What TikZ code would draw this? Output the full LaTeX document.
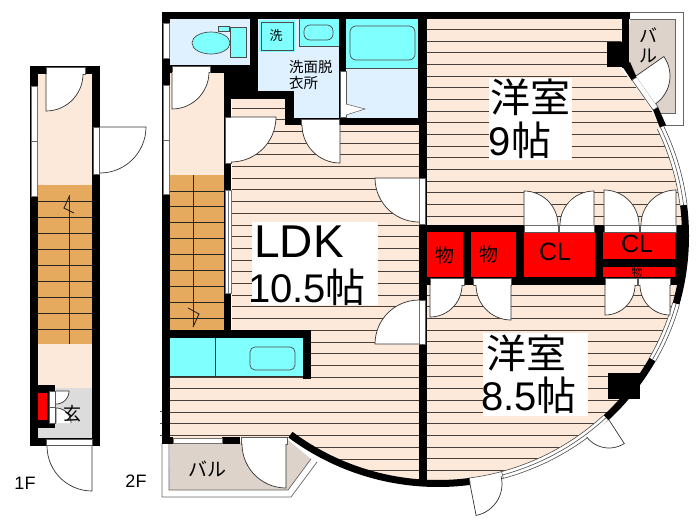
\documentclass[tikz,border=0pt]{standalone}
\usepackage{fontspec}
\setmainfont{Liberation Sans}
\newfontfamily\cjk{Noto Sans CJK JP}
\definecolor{floorpeach}{HTML}{FDE9D9}
\definecolor{stairorange}{HTML}{E6AA5E}
\definecolor{wetblue}{HTML}{DFF0FF}
\definecolor{fixcyan}{HTML}{80FFFF}
\definecolor{balctan}{HTML}{DDD3CA}
\definecolor{entrygrey}{HTML}{DCDCDC}
\definecolor{plankline}{HTML}{4A4038}
\tikzset{
wall/.style={fill=black},
stripbox/.style={fill=white, draw=black!65, line width=.5pt},
winbox/.style={fill=white, draw=black!55, line width=.7pt},
leafline/.style={draw=black!80, line width=.7pt},
plank/.style={draw=plankline, line width=1pt},
tread/.style={draw=black!85, line width=.9pt},
fixture/.style={fill=fixcyan, draw=black!70, line width=.7pt},
roombox/.style={fill=white, inner sep=0pt},
bigtext/.style={inner sep=0pt, text=black},
}
\newcommand{\doorleaf}[5]{
\fill[white] (#1,#2) -- plot[domain=#3:#4,samples=16] ({#1+#5*cos(\x)},{#2+#5*sin(\x)}) -- cycle;
\draw[leafline] (#1,#2) -- plot[domain=#3:#4,samples=16] ({#1+#5*cos(\x)},{#2+#5*sin(\x)});
}
\newcommand{\archwall}[2]{
\draw[line width=7pt, black] plot[domain=#1:#2,samples=40] ({438+247.5*cos(\x)},{236+247.5*sin(\x)});
}
\newcommand{\archwin}[2]{
\draw[line width=7pt, white] plot[domain=#1:#2,samples=30] ({438+247.5*cos(\x)},{236+247.5*sin(\x)});
\foreach \rr in {244,247.5,251}
  \draw[black!70, line width=.6pt] plot[domain=#1:#2,samples=30] ({438+\rr*cos(\x)},{236+\rr*sin(\x)});
}
\begin{document}
\begin{tikzpicture}[x=1pt,y=-1pt]
\useasboundingbox (0,0) rectangle (700,525);
% first floor
\fill[wall] (30,66) rectangle (100,446);
\fill[floorpeach] (38,74) rectangle (92,185);
\fill[stairorange] (38,185) rectangle (92,344);
\fill[floorpeach] (38,344) rectangle (92,388);
\fill[entrygrey] (38,388) rectangle (92,438);
\foreach \k in {0,...,8}
  \draw[tread] (38,{201.5+16*\k}) -- (92,{201.5+16*\k});
\draw[tread] (69.5,195) -- (69.5,344);
\draw[tread] (69.5,196) -- (64,208) -- (74,213);
\draw[stripbox] (46,67) rectangle (85,74);
\draw[winbox] (31,86) rectangle (37,196);
\draw[black!60] (31,141) -- (37,141);
\draw[stripbox] (93,127) rectangle (99,174);
\doorleaf{46}{74}{90}{0}{37}
\doorleaf{100}{127}{0}{90}{46}
\draw[stripbox] (46,439) rectangle (92,445);
\doorleaf{92}{446}{90}{180}{45}
\fill[wall] (38,385) rectangle (55,428);
\fill[red] (38,393) rectangle (47,420);
\draw[stripbox] (49,391) rectangle (55,423);
\draw[stripbox] (49,407) -- (55,407);
\doorleaf{56}{391}{0}{90}{13}
\doorleaf{56}{423}{-90}{0}{15}
\node[bigtext, font=\cjk\fontsize{18}{18}\selectfont] (genkan) at (72,414) {玄};
\node[bigtext, font=\fontsize{18}{18}\selectfont] (floorone) at (25,483) {1F};
\node[bigtext, font=\fontsize{18}{18}\selectfont] (floortwo) at (136,481) {2F};
% balconies go under the walls
\fill[balctan] (630,19) -- (675,19) -- (675,113) -- (657,113) -- (625,68) -- cycle;
\draw[black!60, line width=.7pt] (629,12) -- (683,12) -- (683,125) -- (663,125);
\draw[black!60, line width=.7pt] (630,19) -- (675,19) -- (675,113) -- (658,113);
\fill[balctan] (170,444) -- (288,440) -- (311,459) -- (288,490) -- (169,490) -- cycle;
\draw[black!60, line width=.7pt] (162,443) -- (162,497) -- (291,497) -- (317,462);
\draw[black!60, line width=.7pt] (169,444) -- (169,490) -- (288,490) -- (311,459);
% floors
\begin{scope}
\clip (232,99) -- (285,99) -- (285,125) -- (419,125) -- (419,483) -- plot[domain=94.4:126.6,samples=30] ({438+247.5*cos(\x)},{236+247.5*sin(\x)}) -- (288,438) -- (170,438) -- (170,330) -- (232,330) -- cycle;
\fill[floorpeach] (160,90) rectangle (430,490);
\foreach \k in {0,...,31}
  \draw[plank] (160,{108+11.7*\k}) -- (430,{108+11.7*\k});
\end{scope}
\begin{scope}
\clip (427,19) -- (622,19) -- plot[domain=-42.4:-2.5,samples=30] ({438+247.5*cos(\x)},{236+247.5*sin(\x)}) -- (427,225) -- cycle;
\fill[floorpeach] (420,12) rectangle (700,230);
\foreach \k in {0,...,16}
  \draw[plank] (420,{29.6+11.65*\k}) -- (700,{29.6+11.65*\k});
\end{scope}
\begin{scope}
\clip (427,285) -- plot[domain=11.4:92.5,samples=40] ({438+247.5*cos(\x)},{236+247.5*sin(\x)}) -- cycle;
\fill[floorpeach] (420,280) rectangle (700,490);
\foreach \k in {0,...,16}
  \draw[plank] (420,{295+11.7*\k}) -- (700,{295+11.7*\k});
\end{scope}
% second floor walls
\fill[wall] (162,12) rectangle (630,19);
\fill[wall] (162,12) rectangle (170,444);
\fill[wall] (170,19) rectangle (285,99);
\fill[wall] (285,19) rectangle (427,125);
\fill[wall] (224,65) rectangle (231,338);
\fill[wall] (170,330) rectangle (311,338);
\fill[wall] (303,330) rectangle (311,379);
\fill[wall] (419,12) rectangle (427,484);
\fill[wall] (622,12) rectangle (629,68);
\fill[wall] (607,42) rectangle (629,67);
\fill[wall] (162,437) rectangle (173,444);
\fill[wall] (222,437) rectangle (240,444);
\fill[wall] (419,225) rectangle (684,285);
\fill[wall] (608,373) rectangle (640,399);
\fill[wall] (622,66) -- (630,62) -- (637,78) -- (632,81) -- cycle;
\fill[wall] (653,110) -- (658,107) -- (666,125) -- (660,128) -- cycle;
\archwall{126.6}{82.6}
\archwall{47.3}{29.9}
\archwall{15.9}{-7.2}
\archwin{74.9}{47.3}
\archwin{29.9}{15.9}
\archwin{-7.2}{-26}
\draw[line width=7pt, white] plot[domain=82.6:74.9,samples=10] ({438+247.5*cos(\x)},{236+247.5*sin(\x)});
\draw[black!70, line width=.6pt] plot[domain=82.6:74.9,samples=10] ({438+244*cos(\x)},{236+244*sin(\x)}) -- plot[domain=74.9:82.6,samples=10] ({438+251*cos(\x)},{236+251*sin(\x)}) -- cycle;
\fill[white, draw=black!70, line width=.6pt] (632,80) -- (637,77) -- (658,107) -- (653,110) -- cycle;
% rooms
\fill[wetblue] (170,19) rectangle (250,65);
\fill[floorpeach] (170,73) rectangle (224,175);
\fill[wetblue] (258,19) rectangle (339,91);
\fill[wetblue] (294,19) rectangle (339,118);
\fill[wetblue] (346,19) rectangle (418,118);
\fill[stairorange] (170,175) rectangle (224,330);
\foreach \k in {0,...,8}
  \draw[tread] (170,{191+15.9*\k}) -- (224,{191+15.9*\k});
\draw[tread] (193,175) -- (193,327);
\draw[tread] (188,308) -- (199,314) -- (193,327);
\draw[winbox] (163,23) rectangle (169,58);
\draw[winbox] (163,85) rectangle (169,194);
\draw[black!60] (163,140) -- (169,140);
\draw[winbox] (225,190) rectangle (231,293);
\draw[black!55] (228,190) -- (228,293);
% toilet
\draw[fixture] (230,27) rectangle (246,57);
\draw[fixture] (218,26) rectangle (229,31);
\draw[fixture] (211,43) ellipse [x radius=19, y radius=11];
% wash room
\fill[fixcyan] (259,20) rectangle (295,52);
\draw[black!70, line width=.7pt] (261,22) rectangle (293,50);
\fill[fixcyan] (299,19) rectangle (339,46);
\draw[black!70, line width=.7pt] (299,19) -- (299,46) -- (339,46);
\draw[fixture, rounded corners=6pt] (304,25) rectangle (333,40);
\node[bigtext, font=\cjk\fontsize{13}{13}\selectfont] (washer) at (276,36) {洗};
\node[bigtext, anchor=west, align=left, font=\cjk\fontsize{14.5}{15.5}\selectfont] (washroom) at (289,75) {洗面脱\\衣所};
% bath
\fill[fixcyan] (346,19) rectangle (418,68);
\draw[black!70] (346,68) -- (418,68);
\draw[fixture, rounded corners=6pt] (350,26) rectangle (415,60);
\draw[stripbox] (340,71) rectangle (346,117);
\draw[stripbox] (346,104) -- (365,109) -- (346,115);
% kitchen
\fill[fixcyan] (170,338) rectangle (303,376);
\draw[black!80, line width=.8pt] (170,376) -- (303,376);
\draw[black!80, line width=.8pt] (215,338) -- (215,376);
\draw[fixture, rounded corners=5pt] (250,347) rectangle (295,370);
% closets
\fill[red] (427,232) rectangle (463,277);
\fill[red] (471,232) rectangle (516,277);
\fill[red] (524,232) rectangle (595,277);
\fill[red] (603,232) rectangle (675,259);
\fill[red] (603,267) rectangle (675,277);
\node[bigtext, font=\cjk\fontsize{19}{19}\selectfont] (storea) at (445,255) {物};
\node[bigtext, font=\cjk\fontsize{19}{19}\selectfont] (storeb) at (489,254) {物};
\node[bigtext, font=\fontsize{25}{25}\selectfont] (closeta) at (555,252) {CL};
\node[bigtext, font=\fontsize{25}{25}\selectfont] (closetb) at (637,244) {CL};
\node[bigtext, font=\cjk\fontsize{11}{11}\selectfont] (storec) at (637,272) {物};
% doors
\draw[stripbox] (172,66) rectangle (210,72);
\doorleaf{172}{72}{90}{0}{37}
\draw[stripbox] (225,117) rectangle (231,163);
\doorleaf{231}{117}{0}{90}{45}
\draw[stripbox] (301,119) rectangle (339,125);
\doorleaf{340}{125}{90}{180}{38}
\draw[stripbox] (419,178) rectangle (425,224);
\doorleaf{419}{178}{180}{90}{44}
\draw[stripbox] (419,300) rectangle (425,344);
\doorleaf{419}{344}{180}{270}{44}
\draw[stripbox] (241,437) rectangle (287,444);
\doorleaf{286}{444}{90}{180}{44}
\draw[winbox] (173,438) rectangle (222,443);
\foreach \xa/\xb in {524/558,559/594,604/639,640/676}
  \draw[stripbox] (\xa,225) rectangle (\xb,232);
\doorleaf{524}{225}{270}{360}{34}
\doorleaf{594}{225}{270}{180}{34}
\doorleaf{604}{225}{270}{360}{35}
\doorleaf{676}{225}{270}{180}{35}
\foreach \xa/\xb in {430/464,473/511,605/637,638/670}
  \draw[stripbox] (\xa,278) rectangle (\xb,285);
\doorleaf{430}{285}{90}{0}{32}
\doorleaf{511}{285}{90}{180}{35}
\doorleaf{605}{285}{90}{0}{30}
\doorleaf{670}{285}{90}{180}{30}
\doorleaf{636}{76}{-35}{55}{34}
\doorleaf{609}{420}{57}{143}{28}
\doorleaf{470}{484}{79}{-14}{32}
\foreach \yy in {411,423,435}
  \draw[black!70] (160,\yy) -- (162,\yy);
% room labels
\node[roombox, minimum width=126pt, minimum height=83pt] (boxldk) at (315,263.5) {};
\node[roombox, minimum width=83pt, minimum height=82pt] (boxnine) at (530.5,119) {};
\node[roombox, minimum width=105pt, minimum height=83pt] (boxeight) at (535.5,374.5) {};
\node[bigtext, font=\fontsize{46}{46}\selectfont] (ldk) at (299,242) {LDK};
\node[bigtext, font=\fontsize{40}{40}\selectfont] (ldksize) at (307,287) {10.5{\cjk 帖}};
\node[bigtext, font=\cjk\fontsize{40}{40}\selectfont] (roomnine) at (530,97) {洋室};
\node[bigtext, font=\fontsize{40}{40}\selectfont] (ninesize) at (520,140) {9{\cjk 帖}};
\node[bigtext, font=\cjk\fontsize{40}{40}\selectfont] (roomeight) at (526,353) {洋室};
\node[bigtext, font=\fontsize{40}{40}\selectfont] (eightsize) at (529,395) {8.5{\cjk 帖}};
\node[bigtext, font=\cjk\fontsize{19}{19}\selectfont] (balcbottom) at (207,469) {バル};
\node[bigtext, align=center, font=\cjk\fontsize{18}{20}\selectfont] (balctop) at (648,45) {バ\\ル};
\end{tikzpicture}
\end{document}
